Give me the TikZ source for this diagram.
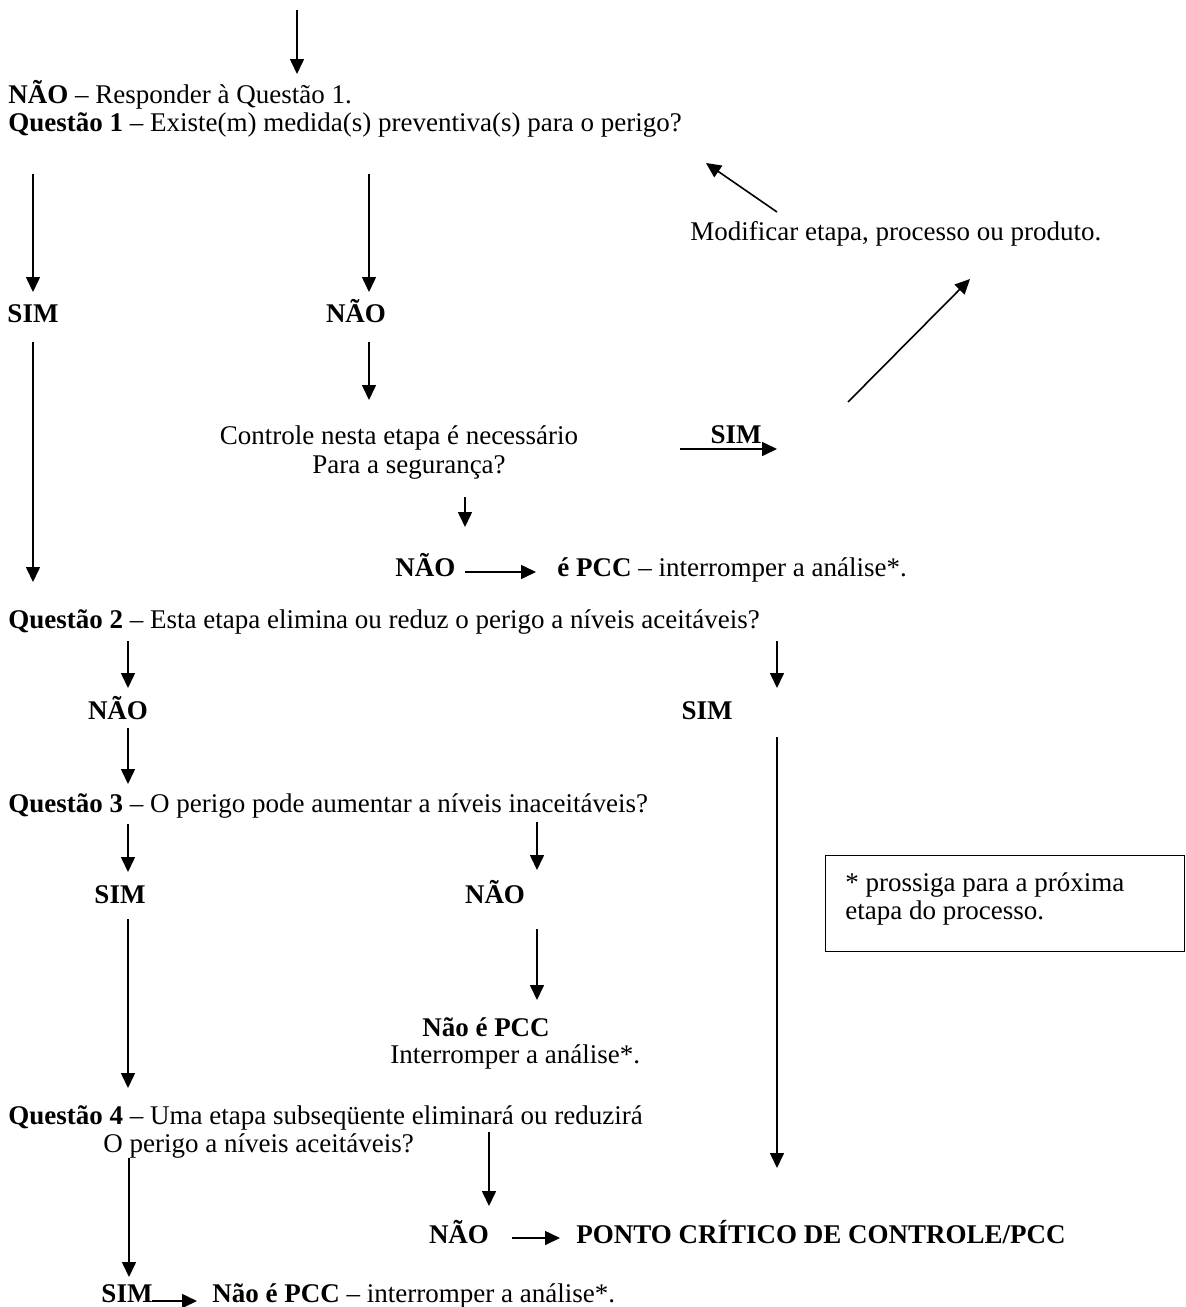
\documentclass[tikz,border=0pt]{standalone}
\usepackage{fontspec}
\setmainfont{Liberation Serif}
\usetikzlibrary{arrows.meta}

\begin{document}
\begin{tikzpicture}[x=0.5pt, y=-0.5pt, font=\fontsize{13.5pt}{15pt}\selectfont,
  txt/.style={inner sep=0pt, text height=9pt, text depth=2.5pt},
  seta/.style={line width=0.8pt, -{Triangle[length=7.5pt,width=7pt]}}]

\useasboundingbox (0,0) rectangle (1185,1307);

% Questao 1
\node [txt,anchor=west] (naoR)  at  (8, 97) {\textbf{NÃO} – Responder à Questão 1.};
\node [txt,anchor=west] (q1)  at  (8, 125) {\textbf{Questão 1} – Existe(m) medida(s) preventiva(s) para o perigo?};
\node [txt] (sim1)  at  (33, 316) {\textbf{SIM}};
\node [txt] (nao1)  at  (356, 316) {\textbf{NÃO}};
\node [txt,anchor=west] (modif)  at  (690, 234) {Modificar etapa, processo ou produto.};
\node [txt] (ctrl1)  at  (399, 438) {Controle nesta etapa é necessário};
\node [txt] (ctrl2)  at  (409, 467) {Para a segurança?};
\node [txt] (simc)  at  (736, 437) {\textbf{SIM}};
\node [txt,anchor=west] (nao2)  at  (395, 570) {\textbf{NÃO}};
\node [txt,anchor=west] (pcc2)  at  (557, 570) {\textbf{é PCC} – interromper a análise*.};

\coordinate (t0) at (297, 10);    \coordinate (h0) at (297, 74);
\coordinate (t1) at (33, 174);    \coordinate (h1) at (33, 292);
\coordinate (t2) at (369, 174);   \coordinate (h2) at (369, 292);
\coordinate (t3) at (777, 212);   \coordinate (h3) at (706, 163);
\coordinate (t4) at (848, 402);   \coordinate (h4) at (970, 279);
\coordinate (t5) at (33, 342);    \coordinate (h5) at (33, 582);
\coordinate (t6) at (369, 342);   \coordinate (h6) at (369, 400);
\coordinate (t7) at (680, 449);   \coordinate (h7) at (777, 449);
\coordinate (t8) at (465, 497);   \coordinate (h8) at (465, 527);
\coordinate (t9) at (465, 572);   \coordinate (h9) at (536, 572);

\draw [seta] (t0) -- (h0);
\draw [seta] (t1) -- (h1);
\draw [seta] (t2) -- (h2);
\draw [seta] (t3) -- (h3);
\draw [seta] (t4) -- (h4);
\draw [seta] (t5) -- (h5);
\draw [seta] (t6) -- (h6);
\draw [seta] (t7) -- (h7);
\draw [seta] (t8) -- (h8);
\draw [seta] (t9) -- (h9);

% Questao 2 e 3
\node [txt,anchor=west] (q2)  at  (8, 622) {\textbf{Questão 2} – Esta etapa elimina ou reduz o perigo a níveis aceitáveis?};
\node [txt] (nao3)  at  (118, 713) {\textbf{NÃO}};
\node [txt] (sim3)  at  (707, 713) {\textbf{SIM}};
\node [txt,anchor=west] (q3)  at  (8, 806) {\textbf{Questão 3} – O perigo pode aumentar a níveis inaceitáveis?};
\node [txt] (sim4)  at  (120, 897) {\textbf{SIM}};
\node [txt] (nao4)  at  (495, 897) {\textbf{NÃO}};
\node [txt] (naopcc)  at  (486, 1030) {\textbf{Não é PCC}};
\node [txt,anchor=west] (interr)  at  (390, 1057) {Interromper a análise*.};
\node [draw, line width=0.6pt, anchor=north west, minimum width=179.5pt, minimum height=48pt] (nota)  at  (825, 855) {};
\node [txt,anchor=west] (notatxt)  at  (845, 885) {* prossiga para a próxima};
\node [txt,anchor=west] (notatxt2)  at  (845, 913) {etapa do processo.};

\coordinate (t10) at (128, 641);  \coordinate (h10) at (128, 688);
\coordinate (t11) at (777, 641);  \coordinate (h11) at (777, 688);
\coordinate (t12) at (128, 728);  \coordinate (h12) at (128, 784);
\coordinate (t13) at (777, 737);  \coordinate (h13) at (777, 1168);
\coordinate (t14) at (128, 824);  \coordinate (h14) at (128, 872);
\coordinate (t15) at (537, 822);  \coordinate (h15) at (537, 870);
\coordinate (t16) at (128, 919);  \coordinate (h16) at (128, 1088);
\coordinate (t17) at (537, 929);  \coordinate (h17) at (537, 1000);

\draw [seta] (t10) -- (h10);
\draw [seta] (t11) -- (h11);
\draw [seta] (t12) -- (h12);
\draw [seta] (t13) -- (h13);
\draw [seta] (t14) -- (h14);
\draw [seta] (t15) -- (h15);
\draw [seta] (t16) -- (h16);
\draw [seta] (t17) -- (h17);

% Questao 4
\node [txt,anchor=west] (q4a)  at  (8, 1118) {\textbf{Questão 4} – Uma etapa subseqüente eliminará ou reduzirá};
\node [txt,anchor=west] (q4b)  at  (103, 1146) {O perigo a níveis aceitáveis?};
\node [txt] (nao5)  at  (459, 1237) {\textbf{NÃO}};
\node [txt,anchor=west] (pcc5)  at  (576, 1237) {\textbf{PONTO CRÍTICO DE CONTROLE/PCC}};
\node [txt] (sim5)  at  (127, 1296) {\textbf{SIM}};
\node [txt,anchor=west] (naopcc5)  at  (212, 1296) {\textbf{Não é PCC} – interromper a análise*.};

\coordinate (t18) at (489, 1132); \coordinate (h18) at (489, 1206);
\coordinate (t19) at (129, 1158); \coordinate (h19) at (129, 1277);
\coordinate (t20) at (512, 1238); \coordinate (h20) at (560, 1238);
\coordinate (t21) at (152, 1301); \coordinate (h21) at (197, 1301);

\draw [seta] (t18) -- (h18);
\draw [seta] (t19) -- (h19);
\draw [seta] (t20) -- (h20);
\draw [seta] (t21) -- (h21);

\end{tikzpicture}
\end{document}
